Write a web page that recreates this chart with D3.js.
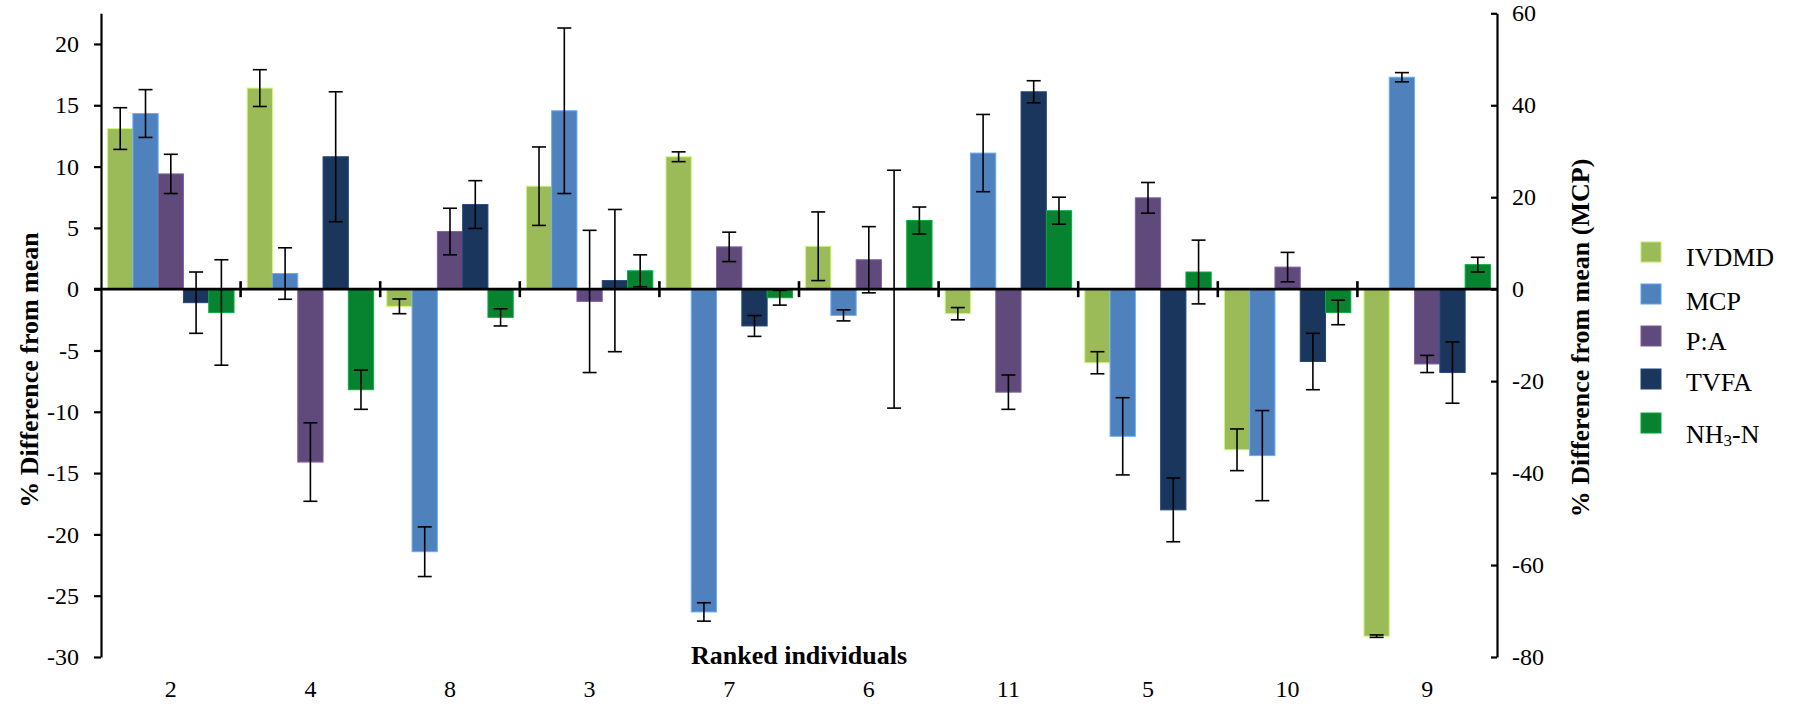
<!DOCTYPE html>
<html>
<head>
<meta charset="utf-8">
<script src="https://cdn.jsdelivr.net/npm/d3@7"></script>
<style>
  html, body { margin: 0; padding: 0; background: #fff; }
  svg { display: block; font-family: "Liberation Serif", "Times New Roman", serif; }
</style>
</head>
<body>
<svg id="chart" width="1794" height="704"></svg>
<script>
// Ranked individuals (x categories)
const individuals = ["2", "4", "8", "3", "7", "6", "11", "5", "10", "9"];
const seriesNames = ["IVDMD", "MCP", "P:A", "TVFA", "NH3-N"];
const seriesColors = ["#9BBB59", "#4F81BD", "#604A7B", "#1A365D", "#07822F"];

// % difference from mean, with error bar half-widths
const ivdmd    = [13.1, 16.4, -1.4, 8.4, 10.8, 3.5, -2.0, -6.0, -13.1, -28.3];
const ivdmdErr = [1.7, 1.5, 0.6, 3.2, 0.4, 2.8, 0.5, 0.9, 1.7, 0.1];
// MCP is read against the secondary (right) axis
const mcp      = [38.2, 3.4, -57.1, 38.8, -70.2, -5.7, 29.6, -32.0, -36.2, 46.1];
const mcpErr   = [5.2, 5.6, 5.4, 18.0, 2.0, 1.2, 8.4, 8.4, 9.8, 1.0];
const pa       = [9.4, -14.1, 4.7, -1.0, 3.45, 2.4, -8.4, 7.45, 1.8, -6.1];
const paErr    = [1.6, 3.2, 1.9, 5.8, 1.2, 2.7, 1.4, 1.25, 1.2, 0.7];
const tvfa     = [-1.1, 10.8, 6.9, 0.7, -3.0, 0.0, 16.1, -18.0, -5.9, -6.8];
const tvfaErr  = [2.5, 5.3, 1.95, 5.8, 0.85, 9.7, 0.9, 2.6, 2.3, 2.5];
const nh3      = [-1.9, -8.2, -2.3, 1.5, -0.7, 5.6, 6.4, 1.4, -1.9, 2.0];
const nh3Err   = [4.3, 1.6, 0.7, 1.3, 0.6, 1.1, 1.1, 2.6, 1.0, 0.6];

const leftTicks  = [-30, -25, -20, -15, -10, -5, 0, 5, 10, 15, 20];
const rightTicks = [-80, -60, -40, -20, 0, 20, 40, 60];

const seriesValues = [ivdmd, mcp, pa, tvfa, nh3];
const seriesErrors = [ivdmdErr, mcpErr, paErr, tvfaErr, nh3Err];
const onRightAxis  = [false, true, false, false, false];

// ---- layout ----
const svg = d3.select("#chart");
const plotLeft = 101, plotRight = 1497, plotTop = 13.3, plotBottom = 657;
const plainNumber = d => String(d);   // hyphen-minus, as in the printed figure

const x = d3.scaleBand().domain(individuals).range([plotLeft, plotRight]).padding(0);
const xSeries = d3.scaleBand().domain(seriesNames).range([0, x.bandwidth()])
  .paddingInner(0).paddingOuter(0.26);
const yLeft = d3.scaleLinear().domain([-30, 22.5]).range([plotBottom, plotTop]);
const yRight = d3.scaleLinear().domain([-80, 60]).range([plotBottom, plotTop]);

const rows = [];
seriesNames.forEach((name, s) => {
  individuals.forEach((ind, i) => {
    rows.push({
      name, ind, s,
      value: seriesValues[s][i],
      err: seriesErrors[s][i],
      y: onRightAxis[s] ? yRight : yLeft
    });
  });
});

// ---- bars ----
const barG = svg.append("g");
barG.selectAll("rect").data(rows).join("rect")
  .attr("x", d => x(d.ind) + xSeries(d.name))
  .attr("width", xSeries.bandwidth())
  .attr("y", d => Math.min(d.y(d.value), d.y(0)))
  .attr("height", d => Math.abs(d.y(d.value) - d.y(0)))
  .attr("fill", d => seriesColors[d.s])
  .attr("stroke", d => d3.color(seriesColors[d.s]).brighter(0.8))
  .attr("stroke-width", 1);

// ---- error bars ----
const errG = svg.append("g").attr("stroke", "#000").attr("stroke-width", 1.6);
const cap = 7;
rows.forEach(d => {
  const cx = x(d.ind) + xSeries(d.name) + xSeries.bandwidth() / 2;
  const yHi = d.y(d.value + d.err), yLo = d.y(d.value - d.err);
  errG.append("line").attr("x1", cx).attr("x2", cx).attr("y1", yHi).attr("y2", yLo);
  errG.append("line").attr("x1", cx - cap).attr("x2", cx + cap).attr("y1", yHi).attr("y2", yHi);
  errG.append("line").attr("x1", cx - cap).attr("x2", cx + cap).attr("y1", yLo).attr("y2", yLo);
});

// ---- left axis ----
const leftAxis = svg.append("g")
  .attr("transform", `translate(${plotLeft},0)`)
  .call(d3.axisLeft(yLeft).tickValues(leftTicks).tickFormat(plainNumber)
    .tickSize(7).tickSizeOuter(0).tickPadding(15));
leftAxis.attr("font-family", "Liberation Serif");
leftAxis.selectAll("path, line").attr("stroke", "#000").attr("stroke-width", 2.2);
leftAxis.selectAll("text").attr("font-size", 24).attr("fill", "#000");

// ---- right axis (MCP) ----
const rightAxis = svg.append("g")
  .attr("transform", `translate(${plotRight},0)`)
  .call(d3.axisRight(yRight).tickValues(rightTicks).tickFormat(plainNumber)
    .tickSize(-6).tickSizeOuter(0).tickPadding(15));
rightAxis.attr("font-family", "Liberation Serif");
rightAxis.selectAll("path, line").attr("stroke", "#000").attr("stroke-width", 2.2);
rightAxis.selectAll("text").attr("font-size", 24).attr("fill", "#000");

// ---- zero line with category separators ----
const y0 = yLeft(0);
svg.append("line")
  .attr("x1", plotLeft - 7).attr("x2", plotRight)
  .attr("y1", y0).attr("y2", y0)
  .attr("stroke", "#000").attr("stroke-width", 2.6);
svg.append("g").selectAll("line").data(individuals.slice(1)).join("line")
  .attr("x1", d => x(d)).attr("x2", d => x(d))
  .attr("y1", y0 - 8).attr("y2", y0 + 8)
  .attr("stroke", "#000").attr("stroke-width", 2.6);

// ---- category labels ----
svg.append("g").selectAll("text").data(individuals).join("text")
  .attr("x", d => x(d) + x.bandwidth() / 2)
  .attr("y", 697)
  .attr("text-anchor", "middle")
  .attr("font-size", 24)
  .text(d => d);

// ---- axis titles ----
svg.append("text")
  .attr("x", (plotLeft + plotRight) / 2).attr("y", 664)
  .attr("text-anchor", "middle").attr("font-size", 26).attr("font-weight", "bold")
  .text("Ranked individuals");

svg.append("text")
  .attr("transform", "translate(38,370) rotate(-90)")
  .attr("text-anchor", "middle").attr("font-size", 26).attr("font-weight", "bold")
  .text("% Difference from mean");

svg.append("text")
  .attr("transform", "translate(1589,338) rotate(-90)")
  .attr("text-anchor", "middle").attr("font-size", 26).attr("font-weight", "bold")
  .text("% Difference from mean (MCP)");

// ---- legend ----
const legendTop = [242, 284, 326, 369, 413];
const legendTextDy = [24, 26, 24, 22, 30];
const legend = svg.append("g");
seriesNames.forEach((name, s) => {
  legend.append("rect")
    .attr("x", 1641).attr("y", legendTop[s])
    .attr("width", 20).attr("height", 20)
    .attr("fill", seriesColors[s])
    .attr("stroke", d3.color(seriesColors[s]).brighter(0.6))
    .attr("stroke-width", 1);
  const t = legend.append("text")
    .attr("x", 1686).attr("y", legendTop[s] + legendTextDy[s])
    .attr("font-size", 26);
  if (name === "NH3-N") {
    t.append("tspan").text("NH");
    t.append("tspan").attr("font-size", 17).attr("dy", 3).text("3");
    t.append("tspan").attr("dy", -3).text("-N");
  } else {
    t.text(name);
  }
});
</script>
</body>
</html>
